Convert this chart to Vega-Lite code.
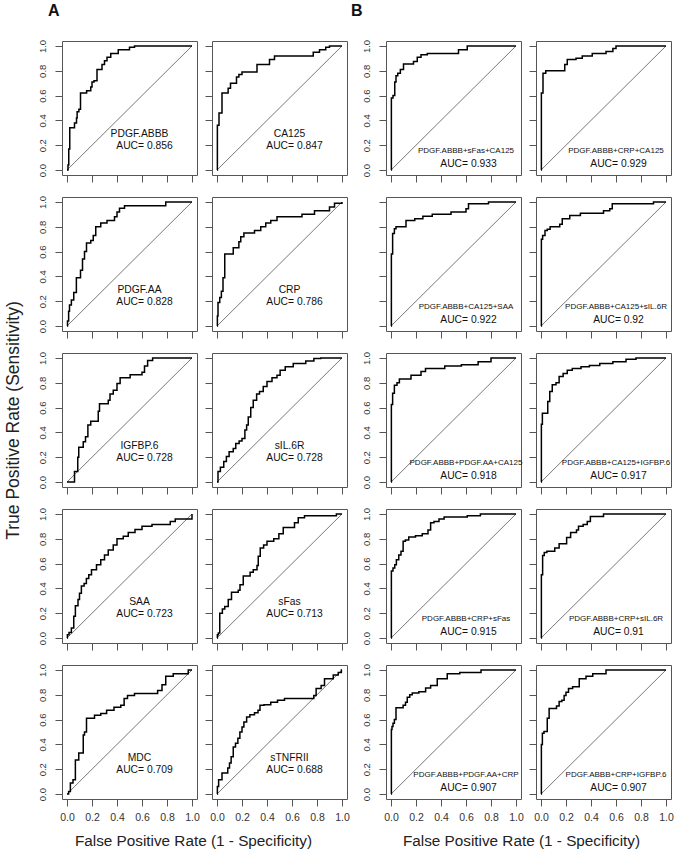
{
"$schema":"https://vega.github.io/schema/vega-lite/v6.json",
"background":"white",
"padding":{"left":3,"top":2,"right":5,"bottom":3},
"columns":5,
"spacing":{"row":22,"column":15},
"bounds":"flush",
"align":"each",
"datasets":{
"diag":[{"x":0,"y":0},{"x":1,"y":1}],
"lab":[
{"p":"a1","n":"PDGF.ABBB","a":"AUC= 0.856"},{"p":"a2","n":"CA125","a":"AUC= 0.847"},
{"p":"a3","n":"PDGF.AA","a":"AUC= 0.828"},{"p":"a4","n":"CRP","a":"AUC= 0.786"},
{"p":"a5","n":"IGFBP.6","a":"AUC= 0.728"},{"p":"a6","n":"sIL.6R","a":"AUC= 0.728"},
{"p":"a7","n":"SAA","a":"AUC= 0.723"},{"p":"a8","n":"sFas","a":"AUC= 0.713"},
{"p":"a9","n":"MDC","a":"AUC= 0.709"},{"p":"a10","n":"sTNFRII","a":"AUC= 0.688"},
{"p":"b1","n":"PDGF.ABBB+sFas+CA125","a":"AUC= 0.933"},{"p":"b2","n":"PDGF.ABBB+CRP+CA125","a":"AUC= 0.929"},
{"p":"b3","n":"PDGF.ABBB+CA125+SAA","a":"AUC= 0.922"},{"p":"b4","n":"PDGF.ABBB+CA125+sIL.6R","a":"AUC= 0.92"},
{"p":"b5","n":"PDGF.ABBB+PDGF.AA+CA125","a":"AUC= 0.918"},{"p":"b6","n":"PDGF.ABBB+CA125+IGFBP.6","a":"AUC= 0.917"},
{"p":"b7","n":"PDGF.ABBB+CRP+sFas","a":"AUC= 0.915"},{"p":"b8","n":"PDGF.ABBB+CRP+sIL.6R","a":"AUC= 0.91"},
{"p":"b9","n":"PDGF.ABBB+PDGF.AA+CRP","a":"AUC= 0.907"},{"p":"b10","n":"PDGF.ABBB+CRP+IGFBP.6","a":"AUC= 0.907"}
],
"roc":[
{"p":"a1","x":0,"y":0},{"p":"a1","x":0.008,"y":0.04},{"p":"a1","x":0.014,"y":0.17},{"p":"a1","x":0.022,"y":0.34},{"p":"a1","x":0.06,"y":0.38},{"p":"a1","x":0.076,"y":0.42},{"p":"a1","x":0.081,"y":0.47},{"p":"a1","x":0.095,"y":0.49},{"p":"a1","x":0.108,"y":0.62},{"p":"a1","x":0.157,"y":0.64},{"p":"a1","x":0.19,"y":0.67},{"p":"a1","x":0.2,"y":0.71},{"p":"a1","x":0.216,"y":0.72},{"p":"a1","x":0.24,"y":0.81},{"p":"a1","x":0.28,"y":0.85},{"p":"a1","x":0.3,"y":0.88},{"p":"a1","x":0.32,"y":0.91},{"p":"a1","x":0.35,"y":0.94},{"p":"a1","x":0.41,"y":0.97},{"p":"a1","x":0.5,"y":0.99},{"p":"a1","x":0.54,"y":1},{"p":"a1","x":1,"y":1},
{"p":"a2","x":0,"y":0},{"p":"a2","x":0.003,"y":0.36},{"p":"a2","x":0.016,"y":0.46},{"p":"a2","x":0.04,"y":0.62},{"p":"a2","x":0.089,"y":0.66},{"p":"a2","x":0.108,"y":0.7},{"p":"a2","x":0.156,"y":0.75},{"p":"a2","x":0.175,"y":0.77},{"p":"a2","x":0.2,"y":0.79},{"p":"a2","x":0.32,"y":0.85},{"p":"a2","x":0.42,"y":0.89},{"p":"a2","x":0.46,"y":0.92},{"p":"a2","x":0.77,"y":0.95},{"p":"a2","x":0.82,"y":0.97},{"p":"a2","x":0.87,"y":0.99},{"p":"a2","x":0.9,"y":1},{"p":"a2","x":1,"y":1},
{"p":"a3","x":0,"y":0},{"p":"a3","x":0.004,"y":0.04},{"p":"a3","x":0.013,"y":0.12},{"p":"a3","x":0.02,"y":0.17},{"p":"a3","x":0.035,"y":0.21},{"p":"a3","x":0.054,"y":0.27},{"p":"a3","x":0.075,"y":0.39},{"p":"a3","x":0.108,"y":0.45},{"p":"a3","x":0.124,"y":0.54},{"p":"a3","x":0.14,"y":0.6},{"p":"a3","x":0.156,"y":0.67},{"p":"a3","x":0.19,"y":0.69},{"p":"a3","x":0.21,"y":0.73},{"p":"a3","x":0.23,"y":0.8},{"p":"a3","x":0.27,"y":0.83},{"p":"a3","x":0.32,"y":0.85},{"p":"a3","x":0.38,"y":0.88},{"p":"a3","x":0.4,"y":0.92},{"p":"a3","x":0.42,"y":0.95},{"p":"a3","x":0.46,"y":0.97},{"p":"a3","x":0.79,"y":1},{"p":"a3","x":1,"y":1},
{"p":"a4","x":0,"y":0},{"p":"a4","x":0.003,"y":0.08},{"p":"a4","x":0.008,"y":0.19},{"p":"a4","x":0.022,"y":0.23},{"p":"a4","x":0.035,"y":0.28},{"p":"a4","x":0.048,"y":0.39},{"p":"a4","x":0.062,"y":0.58},{"p":"a4","x":0.13,"y":0.63},{"p":"a4","x":0.175,"y":0.68},{"p":"a4","x":0.19,"y":0.72},{"p":"a4","x":0.215,"y":0.75},{"p":"a4","x":0.3,"y":0.77},{"p":"a4","x":0.35,"y":0.8},{"p":"a4","x":0.39,"y":0.83},{"p":"a4","x":0.43,"y":0.85},{"p":"a4","x":0.48,"y":0.88},{"p":"a4","x":0.68,"y":0.9},{"p":"a4","x":0.78,"y":0.93},{"p":"a4","x":0.9,"y":0.96},{"p":"a4","x":0.94,"y":0.99},{"p":"a4","x":1,"y":1},
{"p":"a5","x":0,"y":0},{"p":"a5","x":0.06,"y":0.085},{"p":"a5","x":0.086,"y":0.2},{"p":"a5","x":0.094,"y":0.28},{"p":"a5","x":0.13,"y":0.325},{"p":"a5","x":0.148,"y":0.365},{"p":"a5","x":0.167,"y":0.46},{"p":"a5","x":0.19,"y":0.49},{"p":"a5","x":0.25,"y":0.57},{"p":"a5","x":0.26,"y":0.63},{"p":"a5","x":0.33,"y":0.66},{"p":"a5","x":0.344,"y":0.71},{"p":"a5","x":0.37,"y":0.74},{"p":"a5","x":0.4,"y":0.795},{"p":"a5","x":0.425,"y":0.84},{"p":"a5","x":0.505,"y":0.865},{"p":"a5","x":0.6,"y":0.885},{"p":"a5","x":0.62,"y":0.935},{"p":"a5","x":0.645,"y":0.98},{"p":"a5","x":0.685,"y":1},{"p":"a5","x":1,"y":1},
{"p":"a6","x":0,"y":0},{"p":"a6","x":0.008,"y":0.085},{"p":"a6","x":0.027,"y":0.12},{"p":"a6","x":0.054,"y":0.165},{"p":"a6","x":0.075,"y":0.205},{"p":"a6","x":0.097,"y":0.245},{"p":"a6","x":0.13,"y":0.27},{"p":"a6","x":0.15,"y":0.31},{"p":"a6","x":0.177,"y":0.33},{"p":"a6","x":0.2,"y":0.35},{"p":"a6","x":0.223,"y":0.42},{"p":"a6","x":0.237,"y":0.46},{"p":"a6","x":0.25,"y":0.525},{"p":"a6","x":0.27,"y":0.6},{"p":"a6","x":0.29,"y":0.66},{"p":"a6","x":0.317,"y":0.71},{"p":"a6","x":0.34,"y":0.73},{"p":"a6","x":0.37,"y":0.77},{"p":"a6","x":0.4,"y":0.81},{"p":"a6","x":0.44,"y":0.84},{"p":"a6","x":0.48,"y":0.86},{"p":"a6","x":0.505,"y":0.9},{"p":"a6","x":0.546,"y":0.93},{"p":"a6","x":0.61,"y":0.955},{"p":"a6","x":0.71,"y":0.975},{"p":"a6","x":0.775,"y":0.995},{"p":"a6","x":0.83,"y":1},{"p":"a6","x":1,"y":1},
{"p":"a7","x":0,"y":0},{"p":"a7","x":0.003,"y":0.027},{"p":"a7","x":0.016,"y":0.045},{"p":"a7","x":0.035,"y":0.08},{"p":"a7","x":0.054,"y":0.175},{"p":"a7","x":0.067,"y":0.26},{"p":"a7","x":0.088,"y":0.31},{"p":"a7","x":0.1,"y":0.36},{"p":"a7","x":0.115,"y":0.42},{"p":"a7","x":0.137,"y":0.44},{"p":"a7","x":0.155,"y":0.48},{"p":"a7","x":0.174,"y":0.51},{"p":"a7","x":0.196,"y":0.55},{"p":"a7","x":0.236,"y":0.59},{"p":"a7","x":0.27,"y":0.63},{"p":"a7","x":0.3,"y":0.67},{"p":"a7","x":0.33,"y":0.71},{"p":"a7","x":0.37,"y":0.75},{"p":"a7","x":0.4,"y":0.8},{"p":"a7","x":0.45,"y":0.82},{"p":"a7","x":0.49,"y":0.85},{"p":"a7","x":0.544,"y":0.875},{"p":"a7","x":0.6,"y":0.9},{"p":"a7","x":0.68,"y":0.915},{"p":"a7","x":0.826,"y":0.94},{"p":"a7","x":0.866,"y":0.96},{"p":"a7","x":1,"y":1},
{"p":"a8","x":0,"y":0},{"p":"a8","x":0.003,"y":0.027},{"p":"a8","x":0.011,"y":0.04},{"p":"a8","x":0.022,"y":0.2},{"p":"a8","x":0.043,"y":0.235},{"p":"a8","x":0.062,"y":0.255},{"p":"a8","x":0.09,"y":0.31},{"p":"a8","x":0.116,"y":0.37},{"p":"a8","x":0.17,"y":0.385},{"p":"a8","x":0.184,"y":0.43},{"p":"a8","x":0.21,"y":0.5},{"p":"a8","x":0.265,"y":0.53},{"p":"a8","x":0.29,"y":0.55},{"p":"a8","x":0.32,"y":0.585},{"p":"a8","x":0.33,"y":0.66},{"p":"a8","x":0.346,"y":0.725},{"p":"a8","x":0.373,"y":0.75},{"p":"a8","x":0.4,"y":0.78},{"p":"a8","x":0.454,"y":0.8},{"p":"a8","x":0.495,"y":0.84},{"p":"a8","x":0.53,"y":0.89},{"p":"a8","x":0.62,"y":0.93},{"p":"a8","x":0.65,"y":0.97},{"p":"a8","x":0.7,"y":0.985},{"p":"a8","x":0.955,"y":1},{"p":"a8","x":1,"y":1},
{"p":"a9","x":0,"y":0},{"p":"a9","x":0.013,"y":0.02},{"p":"a9","x":0.027,"y":0.088},{"p":"a9","x":0.048,"y":0.115},{"p":"a9","x":0.067,"y":0.275},{"p":"a9","x":0.094,"y":0.33},{"p":"a9","x":0.13,"y":0.475},{"p":"a9","x":0.14,"y":0.5},{"p":"a9","x":0.156,"y":0.61},{"p":"a9","x":0.22,"y":0.635},{"p":"a9","x":0.27,"y":0.65},{"p":"a9","x":0.317,"y":0.675},{"p":"a9","x":0.376,"y":0.7},{"p":"a9","x":0.43,"y":0.715},{"p":"a9","x":0.457,"y":0.77},{"p":"a9","x":0.484,"y":0.795},{"p":"a9","x":0.54,"y":0.81},{"p":"a9","x":0.725,"y":0.835},{"p":"a9","x":0.76,"y":0.88},{"p":"a9","x":0.79,"y":0.95},{"p":"a9","x":0.85,"y":0.97},{"p":"a9","x":0.97,"y":1},{"p":"a9","x":1,"y":1},
{"p":"a10","x":0,"y":0},{"p":"a10","x":0.003,"y":0.06},{"p":"a10","x":0.013,"y":0.115},{"p":"a10","x":0.04,"y":0.17},{"p":"a10","x":0.086,"y":0.21},{"p":"a10","x":0.1,"y":0.25},{"p":"a10","x":0.113,"y":0.3},{"p":"a10","x":0.13,"y":0.38},{"p":"a10","x":0.148,"y":0.41},{"p":"a10","x":0.167,"y":0.45},{"p":"a10","x":0.183,"y":0.5},{"p":"a10","x":0.2,"y":0.54},{"p":"a10","x":0.215,"y":0.58},{"p":"a10","x":0.237,"y":0.62},{"p":"a10","x":0.263,"y":0.64},{"p":"a10","x":0.3,"y":0.655},{"p":"a10","x":0.328,"y":0.675},{"p":"a10","x":0.344,"y":0.715},{"p":"a10","x":0.376,"y":0.72},{"p":"a10","x":0.43,"y":0.74},{"p":"a10","x":0.484,"y":0.755},{"p":"a10","x":0.54,"y":0.77},{"p":"a10","x":0.774,"y":0.795},{"p":"a10","x":0.793,"y":0.85},{"p":"a10","x":0.833,"y":0.875},{"p":"a10","x":0.86,"y":0.93},{"p":"a10","x":0.93,"y":0.96},{"p":"a10","x":0.97,"y":0.98},{"p":"a10","x":0.995,"y":1},{"p":"a10","x":1,"y":1},
{"p":"b1","x":0,"y":0},{"p":"b1","x":0.003,"y":0.58},{"p":"b1","x":0.016,"y":0.6},{"p":"b1","x":0.03,"y":0.71},{"p":"b1","x":0.04,"y":0.76},{"p":"b1","x":0.054,"y":0.78},{"p":"b1","x":0.075,"y":0.81},{"p":"b1","x":0.1,"y":0.855},{"p":"b1","x":0.18,"y":0.875},{"p":"b1","x":0.21,"y":0.91},{"p":"b1","x":0.24,"y":0.93},{"p":"b1","x":0.29,"y":0.94},{"p":"b1","x":0.54,"y":0.97},{"p":"b1","x":0.61,"y":1},{"p":"b1","x":1,"y":1},
{"p":"b2","x":0,"y":0},{"p":"b2","x":0.003,"y":0.62},{"p":"b2","x":0.016,"y":0.78},{"p":"b2","x":0.038,"y":0.8},{"p":"b2","x":0.19,"y":0.85},{"p":"b2","x":0.21,"y":0.89},{"p":"b2","x":0.28,"y":0.9},{"p":"b2","x":0.33,"y":0.92},{"p":"b2","x":0.41,"y":0.94},{"p":"b2","x":0.52,"y":0.955},{"p":"b2","x":0.575,"y":0.98},{"p":"b2","x":0.6,"y":1},{"p":"b2","x":1,"y":1},
{"p":"b3","x":0,"y":0},{"p":"b3","x":0.003,"y":0.58},{"p":"b3","x":0.013,"y":0.745},{"p":"b3","x":0.027,"y":0.785},{"p":"b3","x":0.04,"y":0.8},{"p":"b3","x":0.12,"y":0.85},{"p":"b3","x":0.19,"y":0.865},{"p":"b3","x":0.255,"y":0.885},{"p":"b3","x":0.33,"y":0.9},{"p":"b3","x":0.48,"y":0.92},{"p":"b3","x":0.6,"y":0.945},{"p":"b3","x":0.62,"y":0.985},{"p":"b3","x":0.78,"y":1},{"p":"b3","x":1,"y":1},
{"p":"b4","x":0,"y":0},{"p":"b4","x":0.003,"y":0.7},{"p":"b4","x":0.013,"y":0.73},{"p":"b4","x":0.032,"y":0.77},{"p":"b4","x":0.05,"y":0.78},{"p":"b4","x":0.073,"y":0.8},{"p":"b4","x":0.15,"y":0.82},{"p":"b4","x":0.17,"y":0.865},{"p":"b4","x":0.23,"y":0.89},{"p":"b4","x":0.315,"y":0.91},{"p":"b4","x":0.5,"y":0.93},{"p":"b4","x":0.55,"y":0.945},{"p":"b4","x":0.57,"y":0.985},{"p":"b4","x":0.9,"y":1},{"p":"b4","x":1,"y":1},
{"p":"b5","x":0,"y":0},{"p":"b5","x":0.003,"y":0.625},{"p":"b5","x":0.013,"y":0.715},{"p":"b5","x":0.027,"y":0.78},{"p":"b5","x":0.048,"y":0.8},{"p":"b5","x":0.067,"y":0.83},{"p":"b5","x":0.16,"y":0.86},{"p":"b5","x":0.24,"y":0.89},{"p":"b5","x":0.276,"y":0.915},{"p":"b5","x":0.43,"y":0.935},{"p":"b5","x":0.563,"y":0.945},{"p":"b5","x":0.697,"y":0.97},{"p":"b5","x":0.8,"y":1},{"p":"b5","x":1,"y":1},
{"p":"b6","x":0,"y":0},{"p":"b6","x":0.003,"y":0.465},{"p":"b6","x":0.011,"y":0.555},{"p":"b6","x":0.054,"y":0.65},{"p":"b6","x":0.07,"y":0.73},{"p":"b6","x":0.09,"y":0.785},{"p":"b6","x":0.12,"y":0.8},{"p":"b6","x":0.145,"y":0.85},{"p":"b6","x":0.177,"y":0.875},{"p":"b6","x":0.21,"y":0.9},{"p":"b6","x":0.25,"y":0.915},{"p":"b6","x":0.32,"y":0.93},{"p":"b6","x":0.387,"y":0.94},{"p":"b6","x":0.47,"y":0.955},{"p":"b6","x":0.575,"y":0.97},{"p":"b6","x":0.68,"y":0.99},{"p":"b6","x":0.76,"y":1},{"p":"b6","x":1,"y":1},
{"p":"b7","x":0,"y":0},{"p":"b7","x":0.003,"y":0.54},{"p":"b7","x":0.016,"y":0.565},{"p":"b7","x":0.03,"y":0.59},{"p":"b7","x":0.043,"y":0.63},{"p":"b7","x":0.062,"y":0.67},{"p":"b7","x":0.08,"y":0.7},{"p":"b7","x":0.097,"y":0.78},{"p":"b7","x":0.115,"y":0.79},{"p":"b7","x":0.142,"y":0.815},{"p":"b7","x":0.196,"y":0.825},{"p":"b7","x":0.25,"y":0.84},{"p":"b7","x":0.296,"y":0.87},{"p":"b7","x":0.317,"y":0.93},{"p":"b7","x":0.344,"y":0.94},{"p":"b7","x":0.384,"y":0.96},{"p":"b7","x":0.425,"y":0.975},{"p":"b7","x":0.61,"y":0.985},{"p":"b7","x":0.715,"y":1},{"p":"b7","x":1,"y":1},
{"p":"b8","x":0,"y":0},{"p":"b8","x":0.003,"y":0.51},{"p":"b8","x":0.013,"y":0.665},{"p":"b8","x":0.026,"y":0.69},{"p":"b8","x":0.047,"y":0.7},{"p":"b8","x":0.11,"y":0.725},{"p":"b8","x":0.145,"y":0.76},{"p":"b8","x":0.205,"y":0.81},{"p":"b8","x":0.237,"y":0.85},{"p":"b8","x":0.284,"y":0.87},{"p":"b8","x":0.3,"y":0.9},{"p":"b8","x":0.337,"y":0.915},{"p":"b8","x":0.37,"y":0.94},{"p":"b8","x":0.395,"y":0.98},{"p":"b8","x":0.5,"y":1},{"p":"b8","x":1,"y":1},
{"p":"b9","x":0,"y":0},{"p":"b9","x":0.003,"y":0.52},{"p":"b9","x":0.008,"y":0.545},{"p":"b9","x":0.016,"y":0.57},{"p":"b9","x":0.027,"y":0.6},{"p":"b9","x":0.04,"y":0.695},{"p":"b9","x":0.097,"y":0.715},{"p":"b9","x":0.116,"y":0.74},{"p":"b9","x":0.13,"y":0.78},{"p":"b9","x":0.15,"y":0.8},{"p":"b9","x":0.17,"y":0.815},{"p":"b9","x":0.223,"y":0.825},{"p":"b9","x":0.277,"y":0.855},{"p":"b9","x":0.317,"y":0.875},{"p":"b9","x":0.37,"y":0.93},{"p":"b9","x":0.45,"y":0.97},{"p":"b9","x":0.55,"y":0.98},{"p":"b9","x":0.72,"y":1},{"p":"b9","x":1,"y":1},
{"p":"b10","x":0,"y":0},{"p":"b10","x":0.003,"y":0.4},{"p":"b10","x":0.011,"y":0.49},{"p":"b10","x":0.024,"y":0.505},{"p":"b10","x":0.05,"y":0.61},{"p":"b10","x":0.065,"y":0.69},{"p":"b10","x":0.124,"y":0.71},{"p":"b10","x":0.145,"y":0.745},{"p":"b10","x":0.167,"y":0.755},{"p":"b10","x":0.185,"y":0.795},{"p":"b10","x":0.2,"y":0.82},{"p":"b10","x":0.22,"y":0.85},{"p":"b10","x":0.253,"y":0.865},{"p":"b10","x":0.306,"y":0.93},{"p":"b10","x":0.36,"y":0.95},{"p":"b10","x":0.414,"y":0.97},{"p":"b10","x":0.52,"y":1},{"p":"b10","x":1,"y":1}
]
},
"concat":[
{"title":{"text":"A","anchor":"start","frame":"group","fontSize":16,"fontWeight":"bold","offset":20,"dx":-14},"width":135,"height":134,"layer":[{"encoding":{"x":{"field":"x","type":"quantitative","scale":{"domain":[-0.04,1.04],"nice":false},"axis":{"title":null,"labels":false}},"y":{"field":"y","type":"quantitative","scale":{"domain":[-0.04,1.04],"nice":false},"axis":{"title":null,"labels":true}}},"layer":[{"data":{"name":"diag"},"mark":{"type":"line","color":"#555","strokeWidth":0.8}},{"data":{"name":"roc"},"transform":[{"filter":"datum.p=='a1'"}],"mark":{"type":"line","interpolate":"step-after","color":"#000","strokeWidth":1.5}}]},{"data":{"name":"lab"},"transform":[{"filter":"datum.p=='a1'"}],"mark":{"type":"text","fontSize":10.3},"encoding":{"x":{"datum":0.58},"y":{"datum":0.29},"text":{"field":"n"}}},{"data":{"name":"lab"},"transform":[{"filter":"datum.p=='a1'"}],"mark":{"type":"text","fontSize":10.3},"encoding":{"x":{"datum":0.62},"y":{"datum":0.19},"text":{"field":"a"}}}]},
{"width":135,"height":134,"layer":[{"encoding":{"x":{"field":"x","type":"quantitative","scale":{"domain":[-0.04,1.04],"nice":false},"axis":{"title":null,"labels":false}},"y":{"field":"y","type":"quantitative","scale":{"domain":[-0.04,1.04],"nice":false},"axis":{"title":null,"labels":false}}},"layer":[{"data":{"name":"diag"},"mark":{"type":"line","color":"#555","strokeWidth":0.8}},{"data":{"name":"roc"},"transform":[{"filter":"datum.p=='a2'"}],"mark":{"type":"line","interpolate":"step-after","color":"#000","strokeWidth":1.5}}]},{"data":{"name":"lab"},"transform":[{"filter":"datum.p=='a2'"}],"mark":{"type":"text","fontSize":10.3},"encoding":{"x":{"datum":0.58},"y":{"datum":0.29},"text":{"field":"n"}}},{"data":{"name":"lab"},"transform":[{"filter":"datum.p=='a2'"}],"mark":{"type":"text","fontSize":10.3},"encoding":{"x":{"datum":0.62},"y":{"datum":0.19},"text":{"field":"a"}}}]},
{"width":9,"height":134,"data":{"name":"diag"},"mark":{"type":"point","opacity":0},"view":{"stroke":null}},
{"title":{"text":"B","anchor":"start","frame":"group","fontSize":16,"fontWeight":"bold","offset":20,"dx":-35},"width":135,"height":134,"layer":[{"encoding":{"x":{"field":"x","type":"quantitative","scale":{"domain":[-0.04,1.04],"nice":false},"axis":{"title":null,"labels":false}},"y":{"field":"y","type":"quantitative","scale":{"domain":[-0.04,1.04],"nice":false},"axis":{"title":null,"labels":true}}},"layer":[{"data":{"name":"diag"},"mark":{"type":"line","color":"#555","strokeWidth":0.8}},{"data":{"name":"roc"},"transform":[{"filter":"datum.p=='b1'"}],"mark":{"type":"line","interpolate":"step-after","color":"#000","strokeWidth":1.5}}]},{"data":{"name":"lab"},"transform":[{"filter":"datum.p=='b1'"}],"mark":{"type":"text","fontSize":8},"encoding":{"x":{"datum":0.6},"y":{"datum":0.15},"text":{"field":"n"}}},{"data":{"name":"lab"},"transform":[{"filter":"datum.p=='b1'"}],"mark":{"type":"text","fontSize":10.3},"encoding":{"x":{"datum":0.62},"y":{"datum":0.045},"text":{"field":"a"}}}]},
{"width":135,"height":134,"layer":[{"encoding":{"x":{"field":"x","type":"quantitative","scale":{"domain":[-0.04,1.04],"nice":false},"axis":{"title":null,"labels":false}},"y":{"field":"y","type":"quantitative","scale":{"domain":[-0.04,1.04],"nice":false},"axis":{"title":null,"labels":false}}},"layer":[{"data":{"name":"diag"},"mark":{"type":"line","color":"#555","strokeWidth":0.8}},{"data":{"name":"roc"},"transform":[{"filter":"datum.p=='b2'"}],"mark":{"type":"line","interpolate":"step-after","color":"#000","strokeWidth":1.5}}]},{"data":{"name":"lab"},"transform":[{"filter":"datum.p=='b2'"}],"mark":{"type":"text","fontSize":8},"encoding":{"x":{"datum":0.6},"y":{"datum":0.15},"text":{"field":"n"}}},{"data":{"name":"lab"},"transform":[{"filter":"datum.p=='b2'"}],"mark":{"type":"text","fontSize":10.3},"encoding":{"x":{"datum":0.62},"y":{"datum":0.045},"text":{"field":"a"}}}]},

{"width":135,"height":134,"layer":[{"encoding":{"x":{"field":"x","type":"quantitative","scale":{"domain":[-0.04,1.04],"nice":false},"axis":{"title":null,"labels":false}},"y":{"field":"y","type":"quantitative","scale":{"domain":[-0.04,1.04],"nice":false},"axis":{"title":null,"labels":true}}},"layer":[{"data":{"name":"diag"},"mark":{"type":"line","color":"#555","strokeWidth":0.8}},{"data":{"name":"roc"},"transform":[{"filter":"datum.p=='a3'"}],"mark":{"type":"line","interpolate":"step-after","color":"#000","strokeWidth":1.5}}]},{"data":{"name":"lab"},"transform":[{"filter":"datum.p=='a3'"}],"mark":{"type":"text","fontSize":10.3},"encoding":{"x":{"datum":0.58},"y":{"datum":0.29},"text":{"field":"n"}}},{"data":{"name":"lab"},"transform":[{"filter":"datum.p=='a3'"}],"mark":{"type":"text","fontSize":10.3},"encoding":{"x":{"datum":0.62},"y":{"datum":0.19},"text":{"field":"a"}}}]},
{"width":135,"height":134,"layer":[{"encoding":{"x":{"field":"x","type":"quantitative","scale":{"domain":[-0.04,1.04],"nice":false},"axis":{"title":null,"labels":false}},"y":{"field":"y","type":"quantitative","scale":{"domain":[-0.04,1.04],"nice":false},"axis":{"title":null,"labels":false}}},"layer":[{"data":{"name":"diag"},"mark":{"type":"line","color":"#555","strokeWidth":0.8}},{"data":{"name":"roc"},"transform":[{"filter":"datum.p=='a4'"}],"mark":{"type":"line","interpolate":"step-after","color":"#000","strokeWidth":1.5}}]},{"data":{"name":"lab"},"transform":[{"filter":"datum.p=='a4'"}],"mark":{"type":"text","fontSize":10.3},"encoding":{"x":{"datum":0.58},"y":{"datum":0.29},"text":{"field":"n"}}},{"data":{"name":"lab"},"transform":[{"filter":"datum.p=='a4'"}],"mark":{"type":"text","fontSize":10.3},"encoding":{"x":{"datum":0.62},"y":{"datum":0.19},"text":{"field":"a"}}}]},
{"width":9,"height":134,"data":{"name":"diag"},"mark":{"type":"point","opacity":0},"view":{"stroke":null}},
{"width":135,"height":134,"layer":[{"encoding":{"x":{"field":"x","type":"quantitative","scale":{"domain":[-0.04,1.04],"nice":false},"axis":{"title":null,"labels":false}},"y":{"field":"y","type":"quantitative","scale":{"domain":[-0.04,1.04],"nice":false},"axis":{"title":null,"labels":false}}},"layer":[{"data":{"name":"diag"},"mark":{"type":"line","color":"#555","strokeWidth":0.8}},{"data":{"name":"roc"},"transform":[{"filter":"datum.p=='b3'"}],"mark":{"type":"line","interpolate":"step-after","color":"#000","strokeWidth":1.5}}]},{"data":{"name":"lab"},"transform":[{"filter":"datum.p=='b3'"}],"mark":{"type":"text","fontSize":8},"encoding":{"x":{"datum":0.6},"y":{"datum":0.15},"text":{"field":"n"}}},{"data":{"name":"lab"},"transform":[{"filter":"datum.p=='b3'"}],"mark":{"type":"text","fontSize":10.3},"encoding":{"x":{"datum":0.62},"y":{"datum":0.045},"text":{"field":"a"}}}]},
{"width":135,"height":134,"layer":[{"encoding":{"x":{"field":"x","type":"quantitative","scale":{"domain":[-0.04,1.04],"nice":false},"axis":{"title":null,"labels":false}},"y":{"field":"y","type":"quantitative","scale":{"domain":[-0.04,1.04],"nice":false},"axis":{"title":null,"labels":false}}},"layer":[{"data":{"name":"diag"},"mark":{"type":"line","color":"#555","strokeWidth":0.8}},{"data":{"name":"roc"},"transform":[{"filter":"datum.p=='b4'"}],"mark":{"type":"line","interpolate":"step-after","color":"#000","strokeWidth":1.5}}]},{"data":{"name":"lab"},"transform":[{"filter":"datum.p=='b4'"}],"mark":{"type":"text","fontSize":8},"encoding":{"x":{"datum":0.6},"y":{"datum":0.15},"text":{"field":"n"}}},{"data":{"name":"lab"},"transform":[{"filter":"datum.p=='b4'"}],"mark":{"type":"text","fontSize":10.3},"encoding":{"x":{"datum":0.62},"y":{"datum":0.045},"text":{"field":"a"}}}]},

{"width":135,"height":134,"layer":[{"encoding":{"x":{"field":"x","type":"quantitative","scale":{"domain":[-0.04,1.04],"nice":false},"axis":{"title":null,"labels":false}},"y":{"field":"y","type":"quantitative","scale":{"domain":[-0.04,1.04],"nice":false},"axis":{"title":"True Positive Rate (Sensitivity)","titleFontSize":17.5,"titlePadding":15,"labels":true}}},"layer":[{"data":{"name":"diag"},"mark":{"type":"line","color":"#555","strokeWidth":0.8}},{"data":{"name":"roc"},"transform":[{"filter":"datum.p=='a5'"}],"mark":{"type":"line","interpolate":"step-after","color":"#000","strokeWidth":1.5}}]},{"data":{"name":"lab"},"transform":[{"filter":"datum.p=='a5'"}],"mark":{"type":"text","fontSize":10.3},"encoding":{"x":{"datum":0.58},"y":{"datum":0.29},"text":{"field":"n"}}},{"data":{"name":"lab"},"transform":[{"filter":"datum.p=='a5'"}],"mark":{"type":"text","fontSize":10.3},"encoding":{"x":{"datum":0.62},"y":{"datum":0.19},"text":{"field":"a"}}}]},
{"width":135,"height":134,"layer":[{"encoding":{"x":{"field":"x","type":"quantitative","scale":{"domain":[-0.04,1.04],"nice":false},"axis":{"title":null,"labels":false}},"y":{"field":"y","type":"quantitative","scale":{"domain":[-0.04,1.04],"nice":false},"axis":{"title":null,"labels":false}}},"layer":[{"data":{"name":"diag"},"mark":{"type":"line","color":"#555","strokeWidth":0.8}},{"data":{"name":"roc"},"transform":[{"filter":"datum.p=='a6'"}],"mark":{"type":"line","interpolate":"step-after","color":"#000","strokeWidth":1.5}}]},{"data":{"name":"lab"},"transform":[{"filter":"datum.p=='a6'"}],"mark":{"type":"text","fontSize":10.3},"encoding":{"x":{"datum":0.58},"y":{"datum":0.29},"text":{"field":"n"}}},{"data":{"name":"lab"},"transform":[{"filter":"datum.p=='a6'"}],"mark":{"type":"text","fontSize":10.3},"encoding":{"x":{"datum":0.62},"y":{"datum":0.19},"text":{"field":"a"}}}]},
{"width":9,"height":134,"data":{"name":"diag"},"mark":{"type":"point","opacity":0},"view":{"stroke":null}},
{"width":135,"height":134,"layer":[{"encoding":{"x":{"field":"x","type":"quantitative","scale":{"domain":[-0.04,1.04],"nice":false},"axis":{"title":null,"labels":false}},"y":{"field":"y","type":"quantitative","scale":{"domain":[-0.04,1.04],"nice":false},"axis":{"title":null,"labels":true}}},"layer":[{"data":{"name":"diag"},"mark":{"type":"line","color":"#555","strokeWidth":0.8}},{"data":{"name":"roc"},"transform":[{"filter":"datum.p=='b5'"}],"mark":{"type":"line","interpolate":"step-after","color":"#000","strokeWidth":1.5}}]},{"data":{"name":"lab"},"transform":[{"filter":"datum.p=='b5'"}],"mark":{"type":"text","fontSize":8},"encoding":{"x":{"datum":0.6},"y":{"datum":0.15},"text":{"field":"n"}}},{"data":{"name":"lab"},"transform":[{"filter":"datum.p=='b5'"}],"mark":{"type":"text","fontSize":10.3},"encoding":{"x":{"datum":0.62},"y":{"datum":0.045},"text":{"field":"a"}}}]},
{"width":135,"height":134,"layer":[{"encoding":{"x":{"field":"x","type":"quantitative","scale":{"domain":[-0.04,1.04],"nice":false},"axis":{"title":null,"labels":false}},"y":{"field":"y","type":"quantitative","scale":{"domain":[-0.04,1.04],"nice":false},"axis":{"title":null,"labels":false}}},"layer":[{"data":{"name":"diag"},"mark":{"type":"line","color":"#555","strokeWidth":0.8}},{"data":{"name":"roc"},"transform":[{"filter":"datum.p=='b6'"}],"mark":{"type":"line","interpolate":"step-after","color":"#000","strokeWidth":1.5}}]},{"data":{"name":"lab"},"transform":[{"filter":"datum.p=='b6'"}],"mark":{"type":"text","fontSize":8},"encoding":{"x":{"datum":0.6},"y":{"datum":0.15},"text":{"field":"n"}}},{"data":{"name":"lab"},"transform":[{"filter":"datum.p=='b6'"}],"mark":{"type":"text","fontSize":10.3},"encoding":{"x":{"datum":0.62},"y":{"datum":0.045},"text":{"field":"a"}}}]},

{"width":135,"height":134,"layer":[{"encoding":{"x":{"field":"x","type":"quantitative","scale":{"domain":[-0.04,1.04],"nice":false},"axis":{"title":null,"labels":false}},"y":{"field":"y","type":"quantitative","scale":{"domain":[-0.04,1.04],"nice":false},"axis":{"title":null,"labels":true}}},"layer":[{"data":{"name":"diag"},"mark":{"type":"line","color":"#555","strokeWidth":0.8}},{"data":{"name":"roc"},"transform":[{"filter":"datum.p=='a7'"}],"mark":{"type":"line","interpolate":"step-after","color":"#000","strokeWidth":1.5}}]},{"data":{"name":"lab"},"transform":[{"filter":"datum.p=='a7'"}],"mark":{"type":"text","fontSize":10.3},"encoding":{"x":{"datum":0.58},"y":{"datum":0.29},"text":{"field":"n"}}},{"data":{"name":"lab"},"transform":[{"filter":"datum.p=='a7'"}],"mark":{"type":"text","fontSize":10.3},"encoding":{"x":{"datum":0.62},"y":{"datum":0.19},"text":{"field":"a"}}}]},
{"width":135,"height":134,"layer":[{"encoding":{"x":{"field":"x","type":"quantitative","scale":{"domain":[-0.04,1.04],"nice":false},"axis":{"title":null,"labels":false}},"y":{"field":"y","type":"quantitative","scale":{"domain":[-0.04,1.04],"nice":false},"axis":{"title":null,"labels":false}}},"layer":[{"data":{"name":"diag"},"mark":{"type":"line","color":"#555","strokeWidth":0.8}},{"data":{"name":"roc"},"transform":[{"filter":"datum.p=='a8'"}],"mark":{"type":"line","interpolate":"step-after","color":"#000","strokeWidth":1.5}}]},{"data":{"name":"lab"},"transform":[{"filter":"datum.p=='a8'"}],"mark":{"type":"text","fontSize":10.3},"encoding":{"x":{"datum":0.58},"y":{"datum":0.29},"text":{"field":"n"}}},{"data":{"name":"lab"},"transform":[{"filter":"datum.p=='a8'"}],"mark":{"type":"text","fontSize":10.3},"encoding":{"x":{"datum":0.62},"y":{"datum":0.19},"text":{"field":"a"}}}]},
{"width":9,"height":134,"data":{"name":"diag"},"mark":{"type":"point","opacity":0},"view":{"stroke":null}},
{"width":135,"height":134,"layer":[{"encoding":{"x":{"field":"x","type":"quantitative","scale":{"domain":[-0.04,1.04],"nice":false},"axis":{"title":null,"labels":false}},"y":{"field":"y","type":"quantitative","scale":{"domain":[-0.04,1.04],"nice":false},"axis":{"title":null,"labels":true}}},"layer":[{"data":{"name":"diag"},"mark":{"type":"line","color":"#555","strokeWidth":0.8}},{"data":{"name":"roc"},"transform":[{"filter":"datum.p=='b7'"}],"mark":{"type":"line","interpolate":"step-after","color":"#000","strokeWidth":1.5}}]},{"data":{"name":"lab"},"transform":[{"filter":"datum.p=='b7'"}],"mark":{"type":"text","fontSize":8},"encoding":{"x":{"datum":0.6},"y":{"datum":0.15},"text":{"field":"n"}}},{"data":{"name":"lab"},"transform":[{"filter":"datum.p=='b7'"}],"mark":{"type":"text","fontSize":10.3},"encoding":{"x":{"datum":0.62},"y":{"datum":0.045},"text":{"field":"a"}}}]},
{"width":135,"height":134,"layer":[{"encoding":{"x":{"field":"x","type":"quantitative","scale":{"domain":[-0.04,1.04],"nice":false},"axis":{"title":null,"labels":false}},"y":{"field":"y","type":"quantitative","scale":{"domain":[-0.04,1.04],"nice":false},"axis":{"title":null,"labels":false}}},"layer":[{"data":{"name":"diag"},"mark":{"type":"line","color":"#555","strokeWidth":0.8}},{"data":{"name":"roc"},"transform":[{"filter":"datum.p=='b8'"}],"mark":{"type":"line","interpolate":"step-after","color":"#000","strokeWidth":1.5}}]},{"data":{"name":"lab"},"transform":[{"filter":"datum.p=='b8'"}],"mark":{"type":"text","fontSize":8},"encoding":{"x":{"datum":0.6},"y":{"datum":0.15},"text":{"field":"n"}}},{"data":{"name":"lab"},"transform":[{"filter":"datum.p=='b8'"}],"mark":{"type":"text","fontSize":10.3},"encoding":{"x":{"datum":0.62},"y":{"datum":0.045},"text":{"field":"a"}}}]},

{"width":135,"height":134,"layer":[{"encoding":{"x":{"field":"x","type":"quantitative","scale":{"domain":[-0.04,1.04],"nice":false},"axis":{"title":"False Positive Rate (1 - Specificity)","titleX":131,"titleAlign":"center","titleFontSize":15.3,"titlePadding":11,"labels":true}},"y":{"field":"y","type":"quantitative","scale":{"domain":[-0.04,1.04],"nice":false},"axis":{"title":null,"labels":true}}},"layer":[{"data":{"name":"diag"},"mark":{"type":"line","color":"#555","strokeWidth":0.8}},{"data":{"name":"roc"},"transform":[{"filter":"datum.p=='a9'"}],"mark":{"type":"line","interpolate":"step-after","color":"#000","strokeWidth":1.5}}]},{"data":{"name":"lab"},"transform":[{"filter":"datum.p=='a9'"}],"mark":{"type":"text","fontSize":10.3},"encoding":{"x":{"datum":0.58},"y":{"datum":0.29},"text":{"field":"n"}}},{"data":{"name":"lab"},"transform":[{"filter":"datum.p=='a9'"}],"mark":{"type":"text","fontSize":10.3},"encoding":{"x":{"datum":0.62},"y":{"datum":0.19},"text":{"field":"a"}}}]},
{"width":135,"height":134,"layer":[{"encoding":{"x":{"field":"x","type":"quantitative","scale":{"domain":[-0.04,1.04],"nice":false},"axis":{"title":null,"labels":true}},"y":{"field":"y","type":"quantitative","scale":{"domain":[-0.04,1.04],"nice":false},"axis":{"title":null,"labels":false}}},"layer":[{"data":{"name":"diag"},"mark":{"type":"line","color":"#555","strokeWidth":0.8}},{"data":{"name":"roc"},"transform":[{"filter":"datum.p=='a10'"}],"mark":{"type":"line","interpolate":"step-after","color":"#000","strokeWidth":1.5}}]},{"data":{"name":"lab"},"transform":[{"filter":"datum.p=='a10'"}],"mark":{"type":"text","fontSize":10.3},"encoding":{"x":{"datum":0.58},"y":{"datum":0.29},"text":{"field":"n"}}},{"data":{"name":"lab"},"transform":[{"filter":"datum.p=='a10'"}],"mark":{"type":"text","fontSize":10.3},"encoding":{"x":{"datum":0.62},"y":{"datum":0.19},"text":{"field":"a"}}}]},
{"width":9,"height":134,"data":{"name":"diag"},"mark":{"type":"point","opacity":0},"view":{"stroke":null}},
{"width":135,"height":134,"layer":[{"encoding":{"x":{"field":"x","type":"quantitative","scale":{"domain":[-0.04,1.04],"nice":false},"axis":{"title":"False Positive Rate (1 - Specificity)","titleX":135,"titleAlign":"center","titleFontSize":15.3,"titlePadding":11,"labels":true}},"y":{"field":"y","type":"quantitative","scale":{"domain":[-0.04,1.04],"nice":false},"axis":{"title":null,"labels":true}}},"layer":[{"data":{"name":"diag"},"mark":{"type":"line","color":"#555","strokeWidth":0.8}},{"data":{"name":"roc"},"transform":[{"filter":"datum.p=='b9'"}],"mark":{"type":"line","interpolate":"step-after","color":"#000","strokeWidth":1.5}}]},{"data":{"name":"lab"},"transform":[{"filter":"datum.p=='b9'"}],"mark":{"type":"text","fontSize":8},"encoding":{"x":{"datum":0.6},"y":{"datum":0.15},"text":{"field":"n"}}},{"data":{"name":"lab"},"transform":[{"filter":"datum.p=='b9'"}],"mark":{"type":"text","fontSize":10.3},"encoding":{"x":{"datum":0.62},"y":{"datum":0.045},"text":{"field":"a"}}}]},
{"width":135,"height":134,"layer":[{"encoding":{"x":{"field":"x","type":"quantitative","scale":{"domain":[-0.04,1.04],"nice":false},"axis":{"title":null,"labels":true}},"y":{"field":"y","type":"quantitative","scale":{"domain":[-0.04,1.04],"nice":false},"axis":{"title":null,"labels":false}}},"layer":[{"data":{"name":"diag"},"mark":{"type":"line","color":"#555","strokeWidth":0.8}},{"data":{"name":"roc"},"transform":[{"filter":"datum.p=='b10'"}],"mark":{"type":"line","interpolate":"step-after","color":"#000","strokeWidth":1.5}}]},{"data":{"name":"lab"},"transform":[{"filter":"datum.p=='b10'"}],"mark":{"type":"text","fontSize":8},"encoding":{"x":{"datum":0.6},"y":{"datum":0.15},"text":{"field":"n"}}},{"data":{"name":"lab"},"transform":[{"filter":"datum.p=='b10'"}],"mark":{"type":"text","fontSize":10.3},"encoding":{"x":{"datum":0.62},"y":{"datum":0.045},"text":{"field":"a"}}}]}
],
"config":{
 "view":{"stroke":"#555","strokeWidth":1},
 "axis":{"grid":false,"domain":false,"tickColor":"#555","tickSize":7,"tickCount":6,"labelFont":"Liberation Sans","labelColor":"#333","labelPadding":6,"labelFlush":false,"titleFont":"Liberation Sans","titleFontWeight":"normal","titleColor":"#222"},
 "axisX":{"labelFontSize":10.5},
 "axisY":{"labelFontSize":9.5,"labelAngle":-90,"labelAlign":"center","labelBaseline":"bottom","labelPadding":8},
 "text":{"font":"Liberation Sans","color":"#111"},
 "title":{"font":"Liberation Sans","color":"#111"}
}
}
